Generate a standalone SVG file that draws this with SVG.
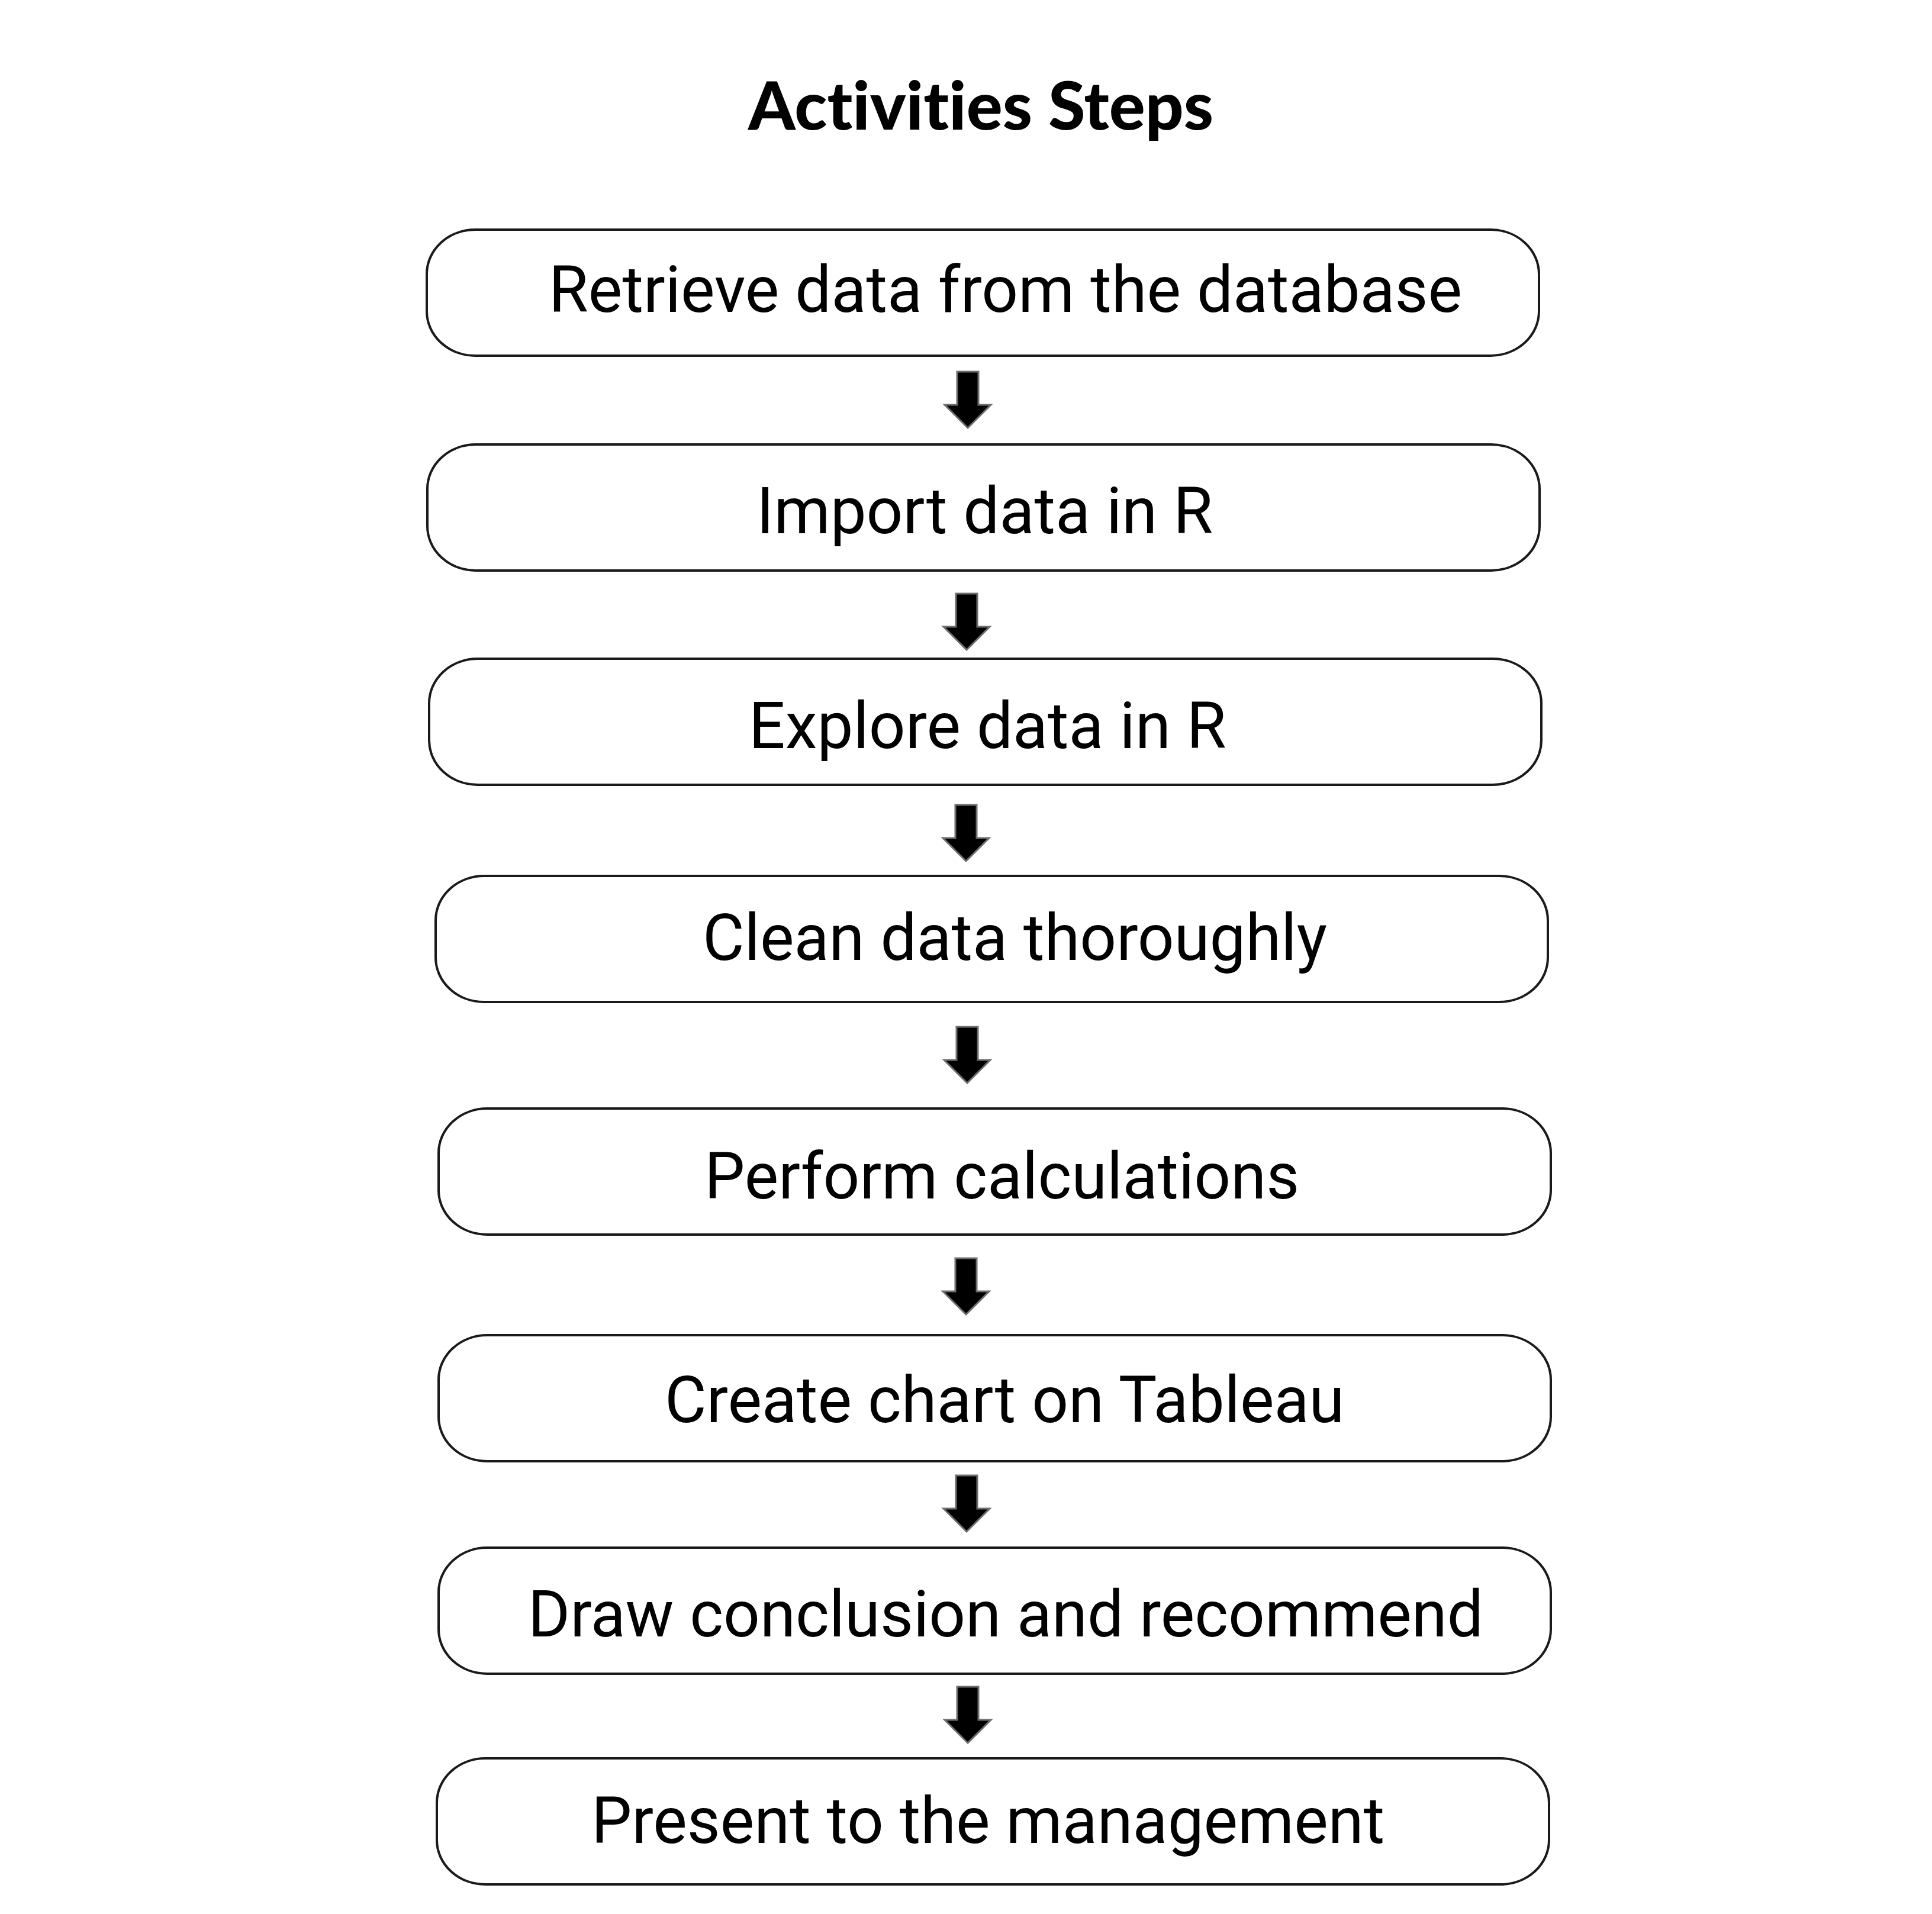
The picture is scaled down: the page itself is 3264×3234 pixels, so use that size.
<svg xmlns="http://www.w3.org/2000/svg" xmlns:xlink="http://www.w3.org/1999/xlink" width="3264" height="3234" viewBox="0 0 3264 3234">
<style>
.box{fill:#fff;stroke:#1a1a1a;stroke-width:4}
.lbl{font-family:Roboto,"Liberation Sans",sans-serif;font-size:108.5px;fill:#000}
.title{font-family:Lato,"Open Sans","Liberation Sans",sans-serif;font-weight:900;font-size:112px;fill:#000;font-variant-ligatures:none}
.arr{fill:#000;stroke:#6e6e6e;stroke-width:3;stroke-linejoin:miter}
</style>
<defs>
<path id="down" class="arr" d="M-18,0 L18,0 L18,56 L39,56 L0,95 L-39,56 L-18,56 Z"/>
</defs>
<rect width="3264" height="3234" fill="#fff"/>
<g id="title"><text class="title" x="1657" y="219" text-anchor="middle" textLength="786" lengthAdjust="spacingAndGlyphs">Activities Steps</text></g>
<g id="step1"><rect class="box" x="721" y="388" width="1879" height="213" rx="82" ry="75"/><text class="lbl" x="927" y="527">Retrieve data from the database</text></g>
<g id="step2"><rect class="box" x="722" y="751" width="1879" height="213" rx="82" ry="75"/><text class="lbl" x="1278" y="901">Import data in R</text></g>
<g id="step3"><rect class="box" x="725" y="1113" width="1879" height="213" rx="82" ry="75"/><text class="lbl" x="1265" y="1264">Explore data in R</text></g>
<g id="step4"><rect class="box" x="736" y="1480" width="1879" height="213" rx="82" ry="75"/><text class="lbl" x="1187" y="1622">Clean data thoroughly</text></g>
<g id="step5"><rect class="box" x="741" y="1873" width="1879" height="213" rx="82" ry="75"/><text class="lbl" x="1190" y="2025">Perform calculations</text></g>
<g id="step6"><rect class="box" x="741" y="2256" width="1879" height="213" rx="82" ry="75"/><text class="lbl" x="1123" y="2403">Create chart on Tableau</text></g>
<g id="step7"><rect class="box" x="741" y="2615" width="1879" height="213" rx="82" ry="75"/><text class="lbl" x="892" y="2765">Draw conclusion and recommend</text></g>
<g id="step8"><rect class="box" x="738" y="2971" width="1879" height="213" rx="82" ry="75"/><text class="lbl" x="999" y="3114">Present to the management</text></g>
<g id="connectors">
<use xlink:href="#down" x="1635" y="628"/>
<use xlink:href="#down" x="1633" y="1003"/>
<use xlink:href="#down" x="1632" y="1360"/>
<use xlink:href="#down" x="1634" y="1735"/>
<use xlink:href="#down" x="1632" y="2126"/>
<use xlink:href="#down" x="1633" y="2493"/>
<use xlink:href="#down" x="1635" y="2850"/>
</g>
</svg>
